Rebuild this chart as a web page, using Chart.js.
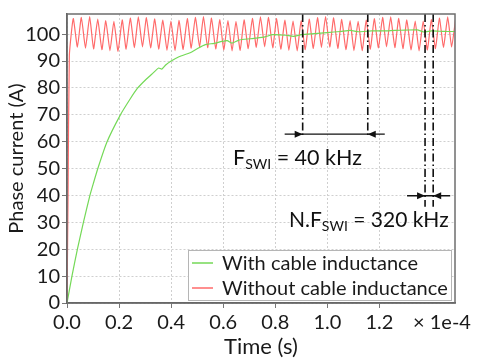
<!DOCTYPE html>
<html>
<head>
<meta charset="utf-8">
<script src="https://cdn.jsdelivr.net/npm/chart.js@4"></script>
<style>
  html, body { margin: 0; padding: 0; background: #fff; }
  #wrap { width: 480px; height: 361px; }
</style>
</head>
<body>
<div id="wrap"><canvas id="chart" width="480" height="361"></canvas></div>
<script>
// ---- data (time in units of 1e-4 s, current in A) ----
const xTickValues = [0, 0.2, 0.4, 0.6, 0.8, 1.0, 1.2];
const xTickLabels = ["0.0", "0.2", "0.4", "0.6", "0.8", "1.0", "1.2"];
const yTickValues = [0, 10, 20, 30, 40, 50, 60, 70, 80, 90, 100];
const yTickLabels = ["0", "10", "20", "30", "40", "50", "60", "70", "80", "90", "100"];

const seriesNames = ["With cable inductance", "Without cable inductance"];

// with cable inductance (slow rise)
const greenTime = [0, 0.019, 0.040, 0.063, 0.088, 0.101, 0.119, 0.153, 0.204, 0.240, 0.270, 0.306,
  0.330, 0.352, 0.364, 0.380, 0.400, 0.430, 0.473, 0.500, 0.531, 0.565, 0.595, 0.615, 0.633, 0.660,
  0.704, 0.723, 0.760, 0.790, 0.840, 0.870, 0.900, 0.950, 0.999, 1.050, 1.088, 1.120, 1.170, 1.217,
  1.260, 1.300, 1.345, 1.370, 1.400, 1.450, 1.490];
const greenCurrent = [0, 10, 20, 30, 40, 44.4, 50.2, 59.8, 69.8, 75.5, 79.8, 83.4,
  85.5, 87.4, 87.0, 88.6, 90, 91.6, 93.1, 94.6, 96.1, 96.6, 97.3, 97.6, 96.7, 97.8,
  98.3, 98.5, 99.0, 99.8, 99.6, 99.2, 99.8, 100.2, 100.6, 101.0, 101.4, 100.9, 101.2, 101.2,
  101.4, 101.5, 101.6, 100.8, 101.2, 101.0, 101.0];

// without cable inductance (fast rise, 320 kHz ripple)
const redTime = [0, 0.004, 0.009, 0.024, 0.040, 0.055, 0.071, 0.087, 0.102, 0.118, 0.134, 0.149,
  0.165, 0.180, 0.196, 0.212, 0.227, 0.243, 0.259, 0.274, 0.290, 0.305, 0.321, 0.337, 0.352, 0.368,
  0.384, 0.399, 0.415, 0.430, 0.446, 0.462, 0.477, 0.493, 0.509, 0.524, 0.540, 0.555, 0.571, 0.587,
  0.602, 0.618, 0.634, 0.649, 0.665, 0.680, 0.696, 0.712, 0.727, 0.743, 0.759, 0.774, 0.790, 0.805,
  0.821, 0.837, 0.852, 0.868, 0.884, 0.899, 0.915, 0.930, 0.946, 0.962, 0.977, 0.993, 1.009, 1.024,
  1.040, 1.055, 1.071, 1.087, 1.102, 1.118, 1.134, 1.149, 1.165, 1.180, 1.196, 1.212, 1.227, 1.243,
  1.259, 1.274, 1.290, 1.305, 1.321, 1.337, 1.352, 1.368, 1.384, 1.399, 1.415, 1.430, 1.446, 1.462,
  1.477, 1.493];
const redCurrent = [0, 40, 92, 105.8, 95.2, 106.3, 94.8, 106.5, 94.5, 105.6, 94.2, 105.0,
  93.8, 104.8, 93.6, 105.3, 94.4, 106.0, 95.0, 106.4, 95.3, 106.2, 94.9, 105.7, 94.4, 105.2,
  94.0, 104.9, 93.9, 105.1, 94.3, 105.8, 94.8, 106.3, 95.2, 106.5, 95.0, 106.0, 94.5, 105.4,
  94.1, 105.0, 93.8, 104.8, 94.0, 105.3, 94.6, 105.9, 95.1, 106.4, 95.3, 106.3, 94.9, 105.8,
  94.4, 105.2, 94.0, 104.9, 93.8, 105.0, 94.2, 105.6, 94.7, 106.2, 95.1, 106.5, 95.2, 106.1,
  94.7, 105.5, 94.2, 105.0, 93.9, 104.8, 93.9, 105.2, 94.4, 105.8, 94.9, 106.3, 95.3, 106.4,
  95.0, 105.9, 94.6, 105.3, 94.1, 104.9, 93.8, 104.9, 94.1, 105.4, 94.6, 106.0, 95.1, 106.4,
  95.2, 106.1];

// switching-period markers
const fswiTimes = [0.905, 1.155];
const fswiArrowLevel = 62.8;
const fswiLineEnd = 61.5;
const nfswiTimes = [1.375, 1.40625];
const nfswiArrowLevel = 39.9;
const nfswiLineEnd = 35.8;

// -----------------------------
// helpers
// -----------------------------
const TXT = "Lato, 'Open Sans', sans-serif";
const green = "#74d957";
const red = "#ff6a6a";

function toPoints(xs, ys) {
  return xs.map((t, i) => ({ x: t, y: ys[i] }));
}

function arrowHead(ctx, tipX, yPx, dir) {
  // dir = +1 points right, -1 points left
  ctx.beginPath();
  ctx.moveTo(tipX, yPx);
  ctx.lineTo(tipX - dir * 8, yPx - 3.5);
  ctx.lineTo(tipX - dir * 8, yPx + 3.5);
  ctx.closePath();
  ctx.fill();
}

function drawMarkerPair(ctx, chart, times, lineEnd, arrowLevel) {
  const { chartArea: a, scales: { x, y } } = chart;
  const xs = times.map(t => x.getPixelForValue(t));
  const yEnd = y.getPixelForValue(lineEnd);
  const yArr = y.getPixelForValue(arrowLevel);

  ctx.strokeStyle = "#111";
  ctx.lineWidth = 1.6;
  ctx.setLineDash([8, 3, 1.5, 3]);
  xs.forEach(px => {
    ctx.beginPath();
    ctx.moveTo(px, a.top);
    ctx.lineTo(px, yEnd);
    ctx.stroke();
  });

  ctx.setLineDash([]);
  ctx.lineWidth = 1.4;
  ctx.beginPath();
  ctx.moveTo(xs[0] - 18, yArr);
  ctx.lineTo(xs[1] + 17, yArr);
  ctx.stroke();
  ctx.fillStyle = "#111";
  arrowHead(ctx, xs[0], yArr, 1);
  arrowHead(ctx, xs[1], yArr, -1);
}

function drawSubLabel(ctx, x0, base, size, pre, sub, post) {
  ctx.fillStyle = "#111";
  ctx.textBaseline = "alphabetic";
  ctx.textAlign = "left";
  ctx.font = size + "px " + TXT;
  ctx.fillText(pre, x0, base);
  let cx = x0 + ctx.measureText(pre).width;
  ctx.font = "14px " + TXT;
  ctx.fillText(sub, cx, base + 4);
  cx += ctx.measureText(sub).width;
  ctx.font = size + "px " + TXT;
  ctx.fillText(post, cx, base);
}

const overlay = {
  id: "overlay",
  afterDatasetsDraw(chart) {
    const { ctx, chartArea: a } = chart;
    ctx.save();
    drawMarkerPair(ctx, chart, fswiTimes, fswiLineEnd, fswiArrowLevel);
    drawMarkerPair(ctx, chart, nfswiTimes, nfswiLineEnd, nfswiArrowLevel);

    drawSubLabel(ctx, 233, 165, 21.5, "F", "SWI", " = 40 kHz");
    drawSubLabel(ctx, 289, 227, 21, "N.F", "SWI", " = 320 kHz");

    // frame
    ctx.strokeStyle = "#6e6e6e";
    ctx.lineWidth = 1.5;
    ctx.strokeRect(a.left, a.top, a.right - a.left, a.bottom - a.top);

    // legend box
    ctx.fillStyle = "#fff";
    ctx.fillRect(188, 250, 264, 51);
    ctx.strokeStyle = "#b5b5b5";
    ctx.lineWidth = 1;
    ctx.strokeRect(188.5, 250.5, 263, 50);
    [green, red].forEach((c, i) => {
      const ly = 263 + i * 25;
      ctx.strokeStyle = c;
      ctx.lineWidth = 1.5;
      ctx.beginPath();
      ctx.moveTo(192, ly);
      ctx.lineTo(213, ly);
      ctx.stroke();
      ctx.fillStyle = "#1a1a1a";
      ctx.font = "20px " + TXT;
      ctx.textBaseline = "middle";
      ctx.fillText(seriesNames[i], 222, ly + 1);
    });

    // offset text for x axis
    ctx.fillStyle = "#1a1a1a";
    ctx.font = "20px " + TXT;
    ctx.textBaseline = "middle";
    ctx.fillText("× 1e-4", 413, 323);
    ctx.restore();
  }
};

// -----------------------------
// chart
// -----------------------------
new Chart(document.getElementById("chart"), {
  type: "line",
  data: {
    datasets: [
      {
        label: seriesNames[0],
        data: toPoints(greenTime, greenCurrent),
        borderColor: green,
        borderWidth: 1.2,
        pointRadius: 0,
        tension: 0.2
      },
      {
        label: seriesNames[1],
        data: toPoints(redTime, redCurrent),
        borderColor: red,
        borderWidth: 1.2,
        pointRadius: 0,
        tension: 0.15
      }
    ]
  },
  options: {
    responsive: false,
    animation: false,
    layout: { padding: { top: 7, right: 25, left: 0, bottom: 0 } },
    plugins: { legend: { display: false }, tooltip: { enabled: false } },
    scales: {
      x: {
        type: "linear",
        min: 0,
        max: 1.49,
        afterBuildTicks: s => { s.ticks = xTickValues.map(v => ({ value: v })); },
        afterFit: s => { s.height = 58; },
        ticks: {
          callback: (v, i) => xTickLabels[i],
          font: { family: TXT, size: 20 },
          color: "#1a1a1a",
          padding: 3,
          maxRotation: 0
        },
        grid: { color: "#cfcfcf", tickColor: "#777", tickLength: 5, tickBorderDash: [] },
        border: { color: "#555", width: 1.5, dash: [2, 2] },
        title: {
          display: true,
          text: "Time (s)",
          font: { family: TXT, size: 22 },
          color: "#1a1a1a",
          padding: { top: 0, bottom: 1 }
        }
      },
      y: {
        min: 0,
        max: 107.5,
        afterBuildTicks: s => { s.ticks = yTickValues.map(v => ({ value: v })); },
        afterFit: s => { s.width = 67; },
        ticks: {
          callback: (v, i) => yTickLabels[i],
          font: { family: TXT, size: 20 },
          color: "#1a1a1a",
          padding: 2
        },
        grid: { color: "#cfcfcf", tickColor: "#777", tickLength: 5, tickBorderDash: [] },
        border: { color: "#555", width: 1.5, dash: [2, 2] },
        title: {
          display: true,
          text: "Phase current (A)",
          font: { family: TXT, size: 20 },
          color: "#1a1a1a",
          padding: { top: 5, bottom: 0 }
        }
      }
    }
  },
  plugins: [overlay]
});
</script>
</body>
</html>
